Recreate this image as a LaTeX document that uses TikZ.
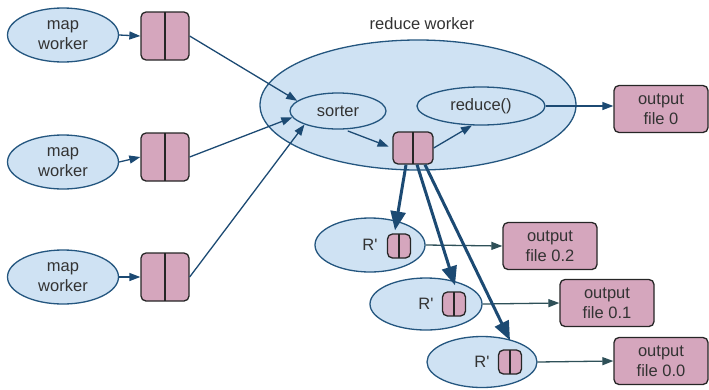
\documentclass[tikz,border=0pt]{standalone}
\usepackage{fontspec}
\setmainfont{Liberation Sans}
\usetikzlibrary{arrows.meta,shapes.geometric,calc}
\definecolor{ellfill}{HTML}{CFE2F3}
\definecolor{ellline}{HTML}{24567F}
\definecolor{boxfill}{HTML}{D5A6BD}
\definecolor{boxline}{HTML}{262626}
\definecolor{arrcol}{HTML}{1C4A73}
\definecolor{arrcolb}{HTML}{2E5058}
\definecolor{txt}{HTML}{333333}
\begin{document}
\begin{tikzpicture}[x=1pt,y=-1pt,
  every node/.style={font=\fontsize{16.5}{20.5}\selectfont, text=txt},
  ell/.style={ellipse, draw=ellline, fill=ellfill, line width=1.3pt, inner sep=0pt, align=center},
  buf/.style={draw=boxline, fill=boxfill, rounded corners=5pt, line width=1.3pt, inner sep=0pt,
    path picture={\draw[boxline, line width=1.3pt] (path picture bounding box.north) -- (path picture bounding box.south);}},
  outbox/.style={draw=boxline, fill=boxfill, rounded corners=5pt, line width=1.3pt, inner sep=0pt,
    align=center, minimum width=94, minimum height=47},
  thinarr/.style={draw=arrcol, line width=1.3pt, -{Triangle[length=11pt,width=8pt]}},
  thinarrb/.style={draw=arrcolb, line width=1.3pt, -{Triangle[length=11pt,width=8pt]}},
  thickarr/.style={draw=arrcol, line width=3pt, -{Triangle[length=19pt,width=15pt]}}
]
\useasboundingbox (0,0) rectangle (709,389);

% map workers
\node[ell, minimum width=111, minimum height=54] (m1) at (63,35) {map\\worker};
\node[ell, minimum width=111, minimum height=54] (m2) at (63,162) {map\\worker};
\node[ell, minimum width=111, minimum height=54] (m3) at (63,277) {map\\worker};

\node[buf, minimum width=48, minimum height=48] (b1) at (165,36) {};
\node[buf, minimum width=48, minimum height=48] (b2) at (165,157) {};
\node[buf, minimum width=48, minimum height=48] (b3) at (165,277) {};

% reduce worker
\node[ell, minimum width=316, minimum height=130] (rw) at (418,105) {};
\node (rwl) at (422,24) {reduce worker};
\node[ell, minimum width=96, minimum height=36] (sorter) at (338,111) {sorter};
\node[ell, minimum width=128, minimum height=38] (redf) at (481,106) {reduce()};
\node[buf, minimum width=40, minimum height=32] (sb) at (413,148) {};
\node[outbox] (o0top) at (661,109) {output\\file 0};

% R' workers
\node[ell, minimum width=110, minimum height=54] (r1) at (370,245) {R\textquotesingle};
\node[buf, minimum width=23, minimum height=24] (rb1) at (399,246) {};
\node[outbox] (o2) at (550,246) {output\\file 0.2};

\node[ell, minimum width=112, minimum height=52] (r2) at (426,304) {R\textquotesingle};
\node[buf, minimum width=23, minimum height=24] (rb2) at (454,304) {};
\node[outbox] (o1) at (607,303) {output\\file 0.1};

\node[ell, minimum width=110, minimum height=51] (r3) at (482,362) {R\textquotesingle};
\node[buf, minimum width=23, minimum height=24] (rb3) at (510,362) {};
\node[outbox] (o0) at (661,361) {output\\file 0.0};

% connectors
\draw[thinarr] (m1.east) -- (b1.west);
\draw[thinarr] (m2.east) -- (b2.west);
\draw[thinarr] (m3.east) -- (b3.west);
\draw[thinarr] (b1.east) -- (sorter.166);
\draw[thinarr] (b2.east) -- (sorter.188);
\draw[thinarr] (b3.east) -- (sorter.202);
\draw[thinarr, shorten <=4pt, shorten >=4pt] (sorter.-72) -- (sb.west);
\draw[thinarr] (sb.east) -- (redf.245);
\draw[thinarr] (redf.east) -- (redf.east -| o0top.west);
\draw[thinarrb] (r1.east) -- (o2.west);
\draw[thinarrb] (r2.east) -- (o1.west);
\draw[thinarrb] (r3.east) -- (o0.west);

\draw[thickarr] ($(sb.south)+(-7,0)$) -- ($(rb1.north)+(-4,-3)$);
\draw[thickarr] ($(sb.south)+(4,0)$) -- ($(rb2.north)+(1,-6)$);
\draw[thickarr] ($(sb.south)+(12,0)$) -- ($(rb3.north)+(0,-9)$);
\end{tikzpicture}
\end{document}
